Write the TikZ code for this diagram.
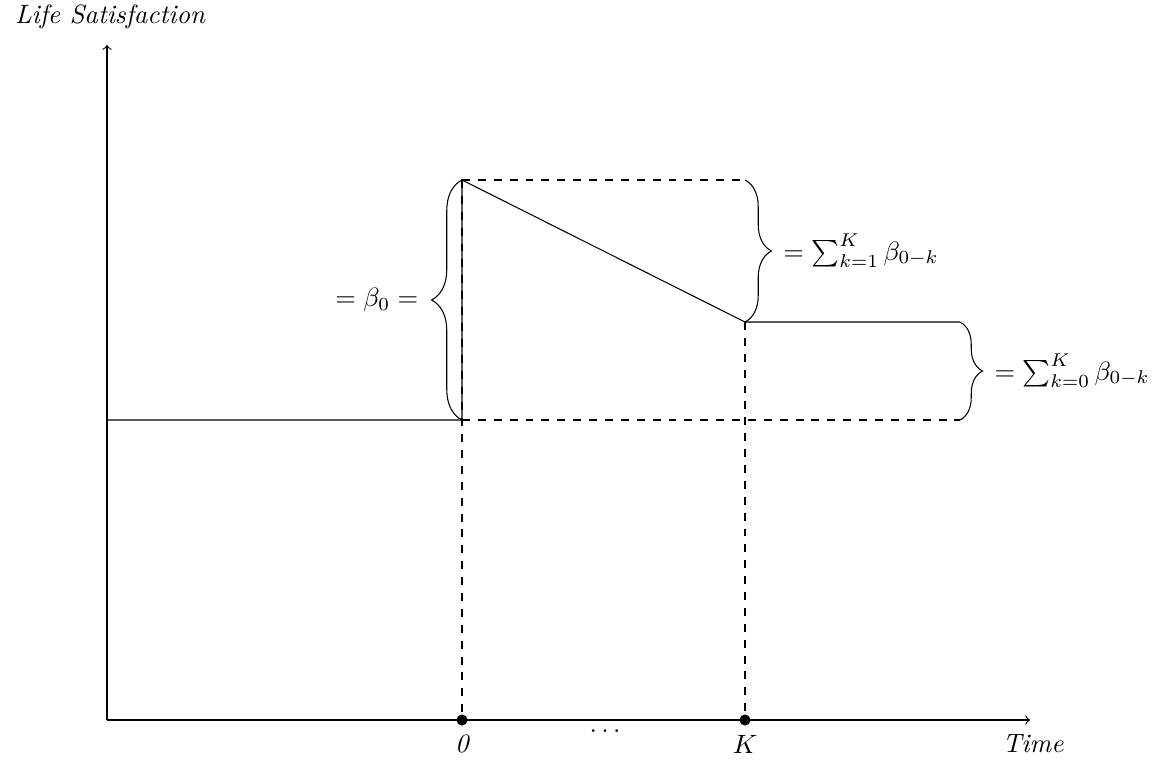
\documentclass[tikz,border=0pt]{standalone}
\usetikzlibrary{decorations.pathreplacing}
\begin{document}
\begin{tikzpicture}[x=0.01327cm,y=-0.01327cm,
  lbl/.style={inner sep=1pt, font=\itshape},
  guide/.style={dashed},
  dotmark/.style={circle, fill=black, inner sep=0pt, minimum size=4.2pt},
  bracedeco/.style={decorate, decoration={brace, amplitude=#1}}]
\useasboundingbox (0,0) rectangle (1160,780);
% coordinates
\coordinate (O) at (107,720);
\coordinate (Ytop) at (107,45);
\coordinate (Xend) at (1030,720);
\coordinate (B0) at (107,420);
\coordinate (P0) at (462,420);
\coordinate (T0) at (462,180);
\coordinate (TK) at (745,180);
\coordinate (PK) at (745,322);
\coordinate (E1) at (960,322);
\coordinate (E0) at (960,420);
% axes
\draw[->] (O) -- (Ytop);
\draw[->] (O) -- (Xend);
\node[lbl] (ylab) at (110,17) {Life Satisfaction};
\node[lbl] (xlab) at (1033,744) {Time};
% time marks
\node[dotmark] (d0) at (462,720) {};
\node[dotmark] (dK) at (745,720) {};
\node[lbl] (l0) at (462,744) {0};
\node[lbl] (lK) at (745,744) {$K$};
\node (dots) at (605,731) {$\dots$};
% guides
\draw[guide] (T0) -- (TK);
\draw[guide] (P0) -- (E0);
\draw (B0) -- (P0) -- (T0) -- (PK) -- (E1);
\draw[guide] (T0) -- (d0);
\draw[guide] (PK) -- (dK);
% braces
\draw[bracedeco=11.5pt] (P0) -- (T0) node[midway, anchor=east, xshift=-13pt] (b0) {$=\beta_0=$};
\draw[bracedeco=10pt] (TK) -- (PK) node[midway, anchor=west, xshift=11pt] (b1) {$=\sum_{k=1}^{K}\beta_{0-k}$};
\draw[bracedeco=8.5pt] (E1) -- (E0) node[midway, anchor=west, xshift=9.5pt] (b2) {$=\sum_{k=0}^{K}\beta_{0-k}$};
\end{tikzpicture}
\end{document}
